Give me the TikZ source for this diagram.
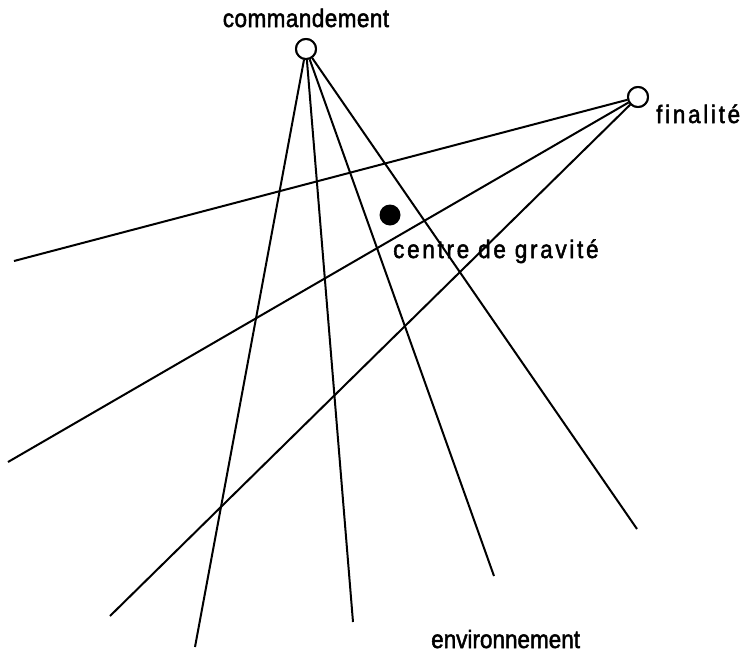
\documentclass[tikz,border=0pt]{standalone}
\usepackage{fontspec}
\setmainfont{Liberation Sans}
\newfontfamily\lblfont[FakeBold=2]{Liberation Sans}
\newfontfamily\lblwide[FakeBold=2,LetterSpace=12]{Liberation Sans}
\newfontfamily\lblmid[FakeBold=2,LetterSpace=2]{Liberation Sans}
\newcommand{\tall}[1]{\scalebox{1}[1.12]{#1}}
\begin{document}
\begin{tikzpicture}[x=1pt,y=-1pt,
  hub/.style={circle,draw,line width=2pt,fill=white,minimum size=20pt,inner sep=0pt},
  dot/.style={circle,fill=black,minimum size=21pt,inner sep=0pt},
  ray/.style={line width=2pt},
  lbl/.style={font=\lblfont\fontsize{22.5}{26}\selectfont,inner sep=0pt},
  lblw/.style={font=\lblwide\fontsize{22.5}{26}\selectfont,inner sep=0pt},
  lblm/.style={font=\lblmid\fontsize{22.5}{26}\selectfont,inner sep=0pt}]
\useasboundingbox (0,0) rectangle (745,654);
% end points
\coordinate (c1) at (195,647);
\coordinate (c2) at (353,622);
\coordinate (c3) at (494,576);
\coordinate (c4) at (637,529);
\coordinate (f1) at (14,261);
\coordinate (f2) at (8,462);
\coordinate (f3) at (110,616);
\node[hub] (C) at (306,49) {};
\node[hub] (F) at (638,97) {};
\node[dot] (G) at (390,215) {};
\foreach \e in {c1,c2,c3,c4} \draw[ray] (C) -- (\e);
\foreach \e in {f1,f2,f3} \draw[ray] (F) -- (\e);
\node[hub] at (C) {};
\node[hub] at (F) {};
\node[lblm,anchor=base] (tC) at (306,27) {\tall{commandement}};
\node[lblw,anchor=base west] (tF) at (656,123) {\tall{finalité}};
\node[lblw,anchor=base west] (tG) at (393,258) {\tall{centre de gravité}};
\node[lbl,anchor=base west] (tE) at (431,648) {\tall{environnement}};
\end{tikzpicture}
\end{document}
